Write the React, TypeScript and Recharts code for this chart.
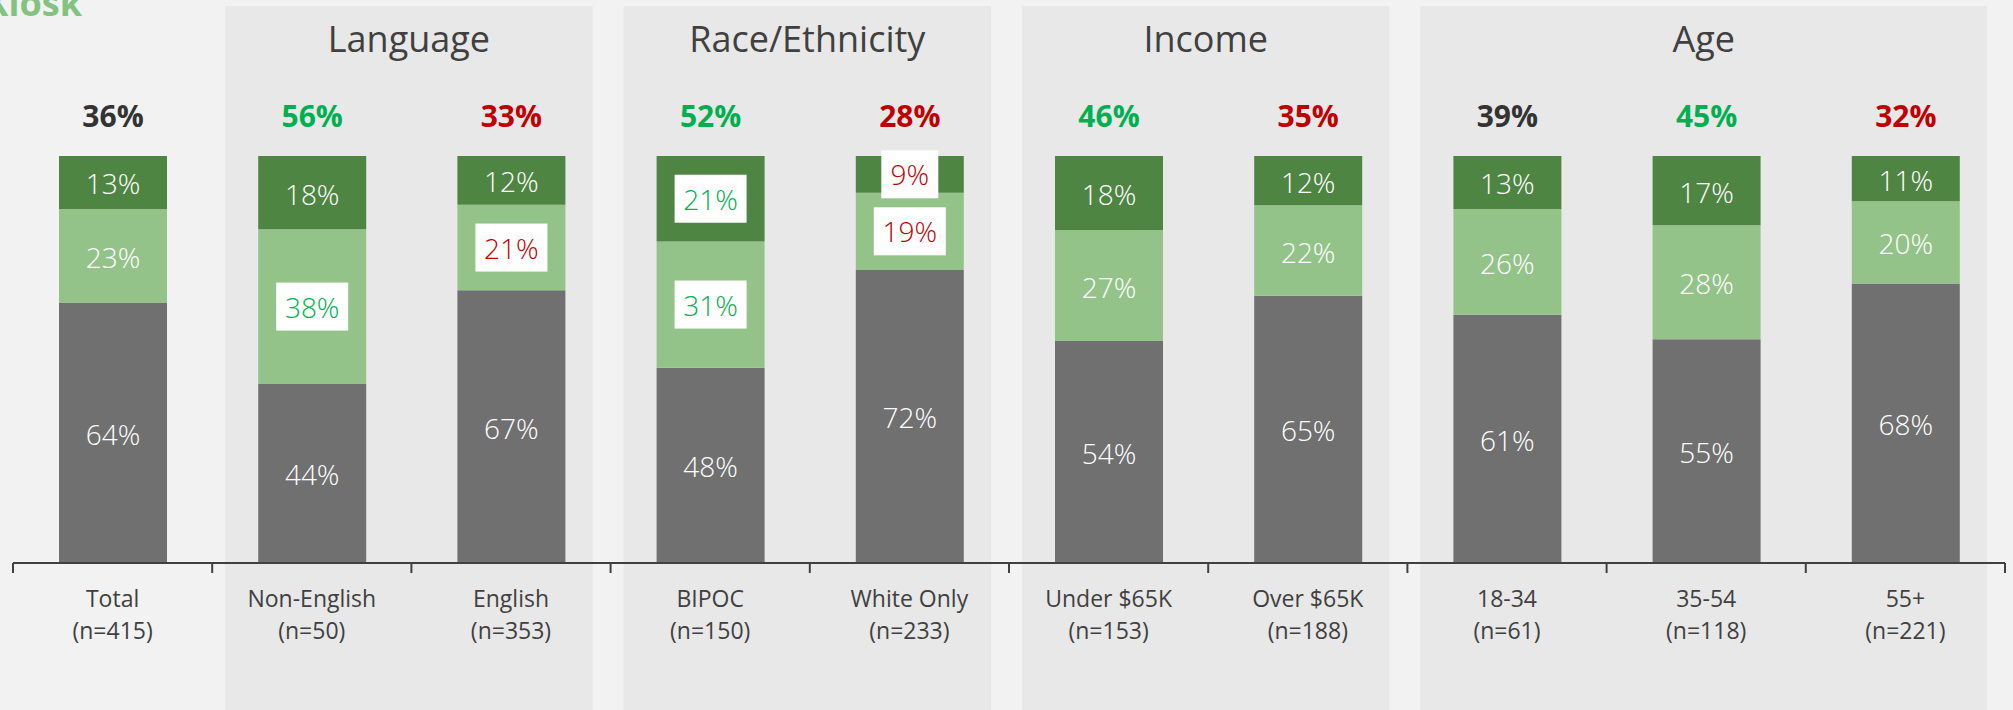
import React from "react";
import {
  BarChart,
  Bar,
  XAxis,
  YAxis,
  LabelList,
  ReferenceArea,
  ReferenceLine,
} from "recharts";

// categories along the axis
const categories = [
  "Total",
  "Non-English",
  "English",
  "BIPOC",
  "White Only",
  "Under $65K",
  "Over $65K",
  "18-34",
  "35-54",
  "55+",
];
const sampleSizes = [415, 50, 353, 150, 233, 153, 188, 61, 118, 221];

// stacked series, bottom to top
const lowValues = [64, 44, 67, 48, 72, 54, 65, 61, 55, 68];
const midValues = [23, 38, 21, 31, 19, 27, 22, 26, 28, 20];
const highValues = [13, 18, 12, 21, 9, 18, 12, 13, 17, 11];

// net (mid + high) shown above each bar
const netValues = [36, 56, 33, 52, 28, 46, 35, 39, 45, 32];
const netTone = ["neutral", "pos", "neg", "pos", "neg", "pos", "neg", "neutral", "pos", "neg"];

// which segment labels are called out in a white box
const midBoxed = [false, true, true, true, true, false, false, false, false, false];
const highBoxed = [false, false, false, true, true, false, false, false, false, false];

const groups = [
  { title: "Language", from: "Non-English", to: "English" },
  { title: "Race/Ethnicity", from: "BIPOC", to: "White Only" },
  { title: "Income", from: "Under $65K", to: "Over $65K" },
  { title: "Age", from: "18-34", to: "55+" },
];

const toneColor: Record<string, string> = {
  neutral: "#333333",
  pos: "#00b050",
  neg: "#c00000",
};

const rows = categories.map((name, i) => ({
  name,
  low: lowValues[i],
  mid: midValues[i],
  high: highValues[i],
}));

const FONT = "'Open Sans', 'Noto Sans', sans-serif";

function rectOf(p: any) {
  const vb = p.viewBox ?? p;
  return { x: Number(vb.x), y: Number(vb.y), width: Number(vb.width), height: Number(vb.height) };
}

const segmentLabel = (values: number[], boxed?: boolean[]) => (p: any) => {
  const { x, y, width, height } = rectOf(p);
  const i = p.index;
  const cx = x + width / 2;
  const cy = y + height / 2;
  const text = `${values[i]}%`;
  if (boxed && boxed[i]) {
    const w = text.length > 2 ? 72 : 57;
    return (
      <g>
        <rect x={cx - w / 2} y={cy - 24} width={w} height={48} fill="#ffffff" />
        <text x={cx} y={cy + 11} textAnchor="middle" fontSize={28} fontWeight={300} fill={toneColor[netTone[i]]} fontFamily={FONT}>
          {text}
        </text>
      </g>
    );
  }
  return (
    <text x={cx} y={cy + 12} textAnchor="middle" fontSize={28} fontWeight={300} fill="#ffffff" fontFamily={FONT}>
      {text}
    </text>
  );
};

const netLabel = (p: any) => {
  const { x, y, width } = rectOf(p);
  const i = p.index;
  return (
    <text
      x={x + width / 2}
      y={y - 29}
      textAnchor="middle"
      fontSize={30}
      fontWeight={700}
      fill={toneColor[netTone[i]]}
      fontFamily={FONT}
    >
      {netValues[i]}%
    </text>
  );
};

const CategoryTick = (p: any) => {
  const { x, y, payload } = p;
  const i = categories.indexOf(payload.value);
  return (
    <g>
      <text x={x} y={y + 44} textAnchor="middle" fontSize={23} fill="#404040" fontFamily={FONT}>
        {payload.value}
      </text>
      <text x={x} y={y + 76} textAnchor="middle" fontSize={23} fill="#404040" fontFamily={FONT}>
        (n={sampleSizes[i]})
      </text>
    </g>
  );
};

const panelShape = (title: string) => (p: any) => {
  const x = p.x + 13;
  const w = p.width - 31;
  return (
    <g>
      <rect x={x} y={6} width={w} height={704} fill="#e8e8e8" />
      <text x={x + w / 2} y={52} textAnchor="middle" fontSize={36} fill="#404040" fontFamily={FONT}>
        {title}
      </text>
    </g>
  );
};

const boundaryTick = (p: any) => {
  const yb = Math.max(p.y1, p.y2);
  return <line x1={p.x1} x2={p.x1} y1={yb} y2={yb + 10} stroke="#404040" strokeWidth={2} />;
};

export default function App() {
  return (
    <div style={{ position: "relative", width: 2013, height: 710, background: "#f2f2f2", overflow: "hidden" }}>
      <style>{`body{margin:0}`}</style>
      <svg width={200} height={40} style={{ position: "absolute", left: 0, top: 0 }}>
        <text x={82} y={16} textAnchor="end" fontSize={36} fontWeight={700} fill="#83c27f" fontFamily={FONT}>
          Kiosk
        </text>
      </svg>
      <BarChart
        width={2013}
        height={710}
        data={rows}
        margin={{ top: 156, right: 8, bottom: 0, left: 13 }}
        stackOffset="expand"
        barSize={108}
      >
        {groups.map((g) => (
          <ReferenceArea key={g.title} x1={g.from} x2={g.to} ifOverflow="visible" shape={panelShape(g.title)} />
        ))}
        <XAxis
          dataKey="name"
          height={147}
          interval={0}
          tickSize={0}
          tickMargin={0}
          tickLine={false}
          axisLine={{ stroke: "#404040", strokeWidth: 2 }}
          tick={<CategoryTick />}
        />
        <YAxis hide domain={[0, 1]} />
        {categories.map((c) => (
          <ReferenceLine key={c} x={c} position="start" ifOverflow="visible" shape={boundaryTick} />
        ))}
        <ReferenceLine x={categories[categories.length - 1]} position="end" ifOverflow="visible" shape={boundaryTick} />
        <Bar dataKey="low" stackId="s" fill="#707070" isAnimationActive={false}>
          <LabelList dataKey="low" content={segmentLabel(lowValues)} />
        </Bar>
        <Bar dataKey="mid" stackId="s" fill="#94c38a" isAnimationActive={false}>
          <LabelList dataKey="mid" content={segmentLabel(midValues, midBoxed)} />
        </Bar>
        <Bar dataKey="high" stackId="s" fill="#4f8543" isAnimationActive={false}>
          <LabelList dataKey="high" content={segmentLabel(highValues, highBoxed)} />
          <LabelList dataKey="high" content={netLabel} />
        </Bar>
      </BarChart>
    </div>
  );
}
